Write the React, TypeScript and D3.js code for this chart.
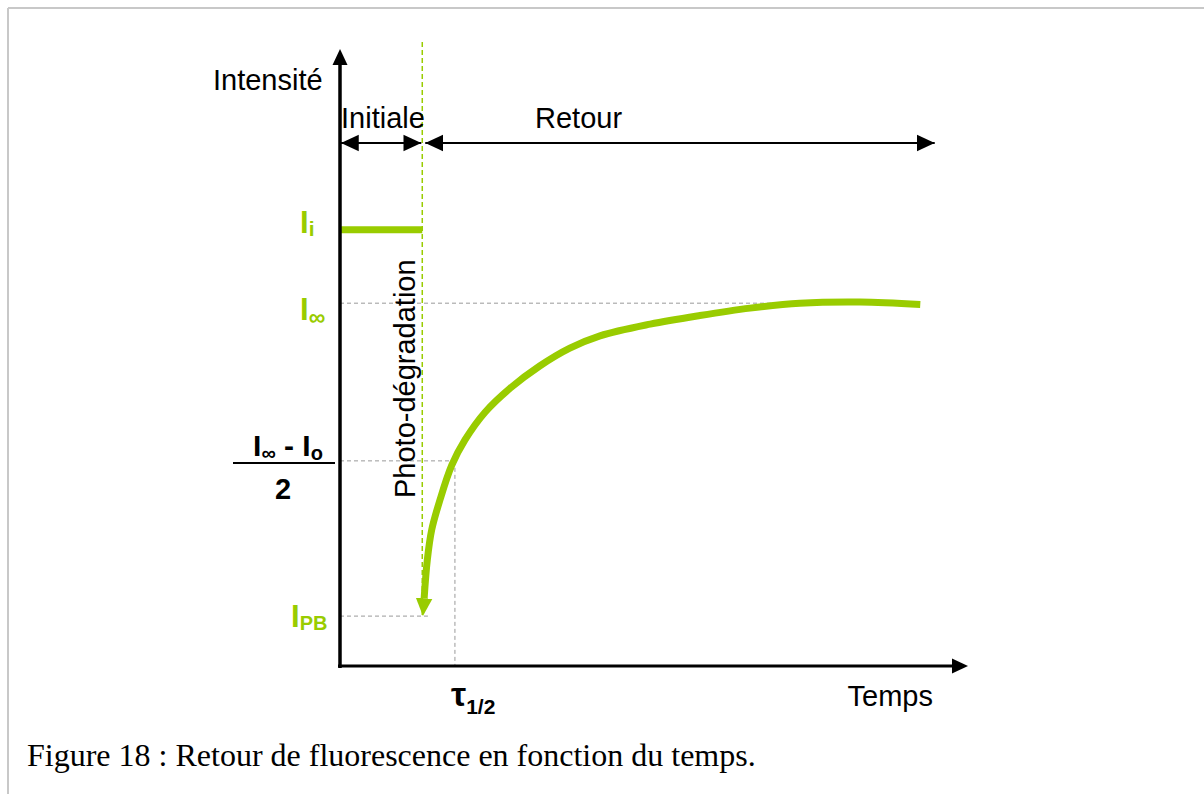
import React from "react";
import * as d3 from "d3";

// ---- data (time in arbitrary units 0..100, intensity 0..100) ----
const curveTime = [13.4, 13.9, 14.6, 15.9, 17.8, 19.9, 23.1, 27.1, 31.8, 36.6, 41.4, 49.4, 57.3, 65.3, 73.2, 82.8, 92.4];
const curveIntensity = [11.0, 17.2, 22.1, 26.9, 32.6, 36.7, 41.2, 45.1, 48.7, 51.6, 53.6, 55.5, 56.9, 58.1, 58.9, 59.1, 58.7];
const levelInitial = 70.8; // I_i
const levelInfinite = 58.9; // I_inf
const levelHalf = 33.3; // (I_inf - I_o)/2
const levelPB = 8.1; // I_PB
const timeBleach = 13.1; // photo-degradation
const timeHalf = 18.3; // tau 1/2
const timeEnd = 94.7; // end of "Retour"
const axisLabels = ["Intensité", "Temps"];
const phaseLabels = ["Initiale", "Retour", "Photo-dégradation"];
const caption = "Figure 18 : Retour de fluorescence en fonction du temps.";

const GREEN = "#99cc00";

export default function App() {
  const x = d3.scaleLinear().domain([0, 100]).range([340, 968]);
  const y = d3.scaleLinear().domain([0, 100]).range([666, 50]);
  const pts: [number, number][] = curveTime.map((t, i) => [t, curveIntensity[i]]);
  const line = d3
    .line<[number, number]>()
    .x((d) => x(d[0]))
    .y((d) => y(d[1]))
    .curve(d3.curveCatmullRom.alpha(0.5));
  const pathD = line(pts.slice().reverse()) || "";

  const sans = "'Liberation Sans', Arial, sans-serif";
  const x0 = x(0);
  const y0 = y(0);
  const yArrowY = 143;

  return (
    <svg
      width={1204}
      height={794}
      style={{ position: "absolute", left: 0, top: 0, background: "#fff" }}
      fontFamily={sans}
    >
      <defs>
        <marker id="ga" markerUnits="userSpaceOnUse" markerWidth={20} markerHeight={20} refX={0} refY={0} viewBox="0 -8 18 16" orient="auto">
          <path d="M0,-7.5 L16,0 L0,7.5 Z" fill={GREEN} />
        </marker>
        <marker id="ba" markerUnits="userSpaceOnUse" markerWidth={20} markerHeight={20} refX={16} refY={0} viewBox="0 -8 18 16" orient="auto">
          <path d="M0,-7.5 L16,0 L0,7.5 Z" fill="#000" />
        </marker>
        <marker id="bs" markerUnits="userSpaceOnUse" markerWidth={20} markerHeight={20} refX={16} refY={0} viewBox="0 -8 18 16" orient="auto-start-reverse">
          <path d="M0,-7.5 L16,0 L0,7.5 Z" fill="#000" />
        </marker>
      </defs>

      {/* frame */}
      <line x1={8} y1={8} x2={1204} y2={8} stroke="#c8c8c8" strokeWidth={2} />
      <line x1={8} y1={8} x2={8} y2={794} stroke="#c8c8c8" strokeWidth={2} />

      {/* gray dashed guides */}
      <g stroke="#999" strokeWidth={1} strokeDasharray="4,3" fill="none">
        <line x1={x0} x2={x(92.4)} y1={y(levelInfinite)} y2={y(levelInfinite)} />
        <line x1={x0} x2={x(timeHalf)} y1={y(levelHalf)} y2={y(levelHalf)} />
        <line x1={x(timeHalf)} x2={x(timeHalf)} y1={y(levelHalf)} y2={y0} />
        <line x1={x0} x2={x(14.0)} y1={y(levelPB)} y2={y(levelPB)} />
      </g>

      {/* green dashed photo-degradation line */}
      <line x1={x(timeBleach)} x2={x(timeBleach)} y1={42} y2={y(levelPB)} stroke={GREEN} strokeWidth={1.5} strokeDasharray="5,3" />

      {/* initial level */}
      <line x1={x0} x2={x(timeBleach)} y1={y(levelInitial)} y2={y(levelInitial)} stroke={GREEN} strokeWidth={7} />

      {/* recovery curve */}
      <path d={pathD} fill="none" stroke={GREEN} strokeWidth={7} markerEnd="url(#ga)" />

      {/* axes */}
      <line x1={x0} x2={x0} y1={64} y2={y0 + 2} stroke="#000" strokeWidth={3.5} />
      <path d={`M${x0 - 7.5},${65} L${x0},${49} L${x0 + 7.5},${65} Z`} fill="#000" />
      <line x1={x0 - 2} x2={952} y1={y0} y2={y0} stroke="#000" strokeWidth={3.2} />
      <path d={`M952,${y0 - 7.5} L968,${y0} L952,${y0 + 7.5} Z`} fill="#000" />

      {/* phase arrows */}
      <line x1={x0 + 1} x2={x(timeBleach) - 1} y1={yArrowY} y2={yArrowY} stroke="#000" strokeWidth={2} markerStart="url(#bs)" markerEnd="url(#ba)" />
      <line x1={x(timeBleach) + 3} x2={x(timeEnd)} y1={yArrowY} y2={yArrowY} stroke="#000" strokeWidth={2} markerStart="url(#bs)" markerEnd="url(#ba)" />

      {/* texts */}
      <g fontSize={29} fill="#000">
        <text x={213} y={90}>{axisLabels[0]}</text>
        <text x={933} y={706} textAnchor="end">{axisLabels[1]}</text>
        <text x={341} y={128}>{phaseLabels[0]}</text>
        <text x={535} y={128}>{phaseLabels[1]}</text>
        <text transform="translate(415,498) rotate(-90)">{phaseLabels[2]}</text>
      </g>

      <g fontWeight="bold" fill={GREEN}>
        <text x={300} y={233} fontSize={31}>
          I<tspan fontSize={21} dy={3}>i</tspan>
        </text>
        <text x={300} y={320} fontSize={31}>
          I<tspan fontSize={23} dy={5}>∞</tspan>
        </text>
        <text x={291} y={627} fontSize={31}>
          I<tspan fontSize={20} dy={3}>PB</tspan>
        </text>
      </g>

      <g fontWeight="bold" fill="#000">
        <text x={288} y={456} fontSize={30} textAnchor="middle">
          I<tspan fontSize={20} dy={4}>∞</tspan>
          <tspan dy={-4}> - I</tspan>
          <tspan fontSize={20} dy={4}>o</tspan>
        </text>
        <line x1={233} x2={335} y1={463} y2={463} stroke="#000" strokeWidth={2} />
        <text x={283} y={499} fontSize={29} textAnchor="middle">2</text>
        <text x={451} y={706} fontSize={34}>
          τ<tspan fontSize={21} dy={8}>1/2</tspan>
        </text>
      </g>

      <text x={27} y={766} fontFamily="'Liberation Serif', 'Times New Roman', serif" fontSize={32} fill="#000">
        {caption}
      </text>
    </svg>
  );
}
